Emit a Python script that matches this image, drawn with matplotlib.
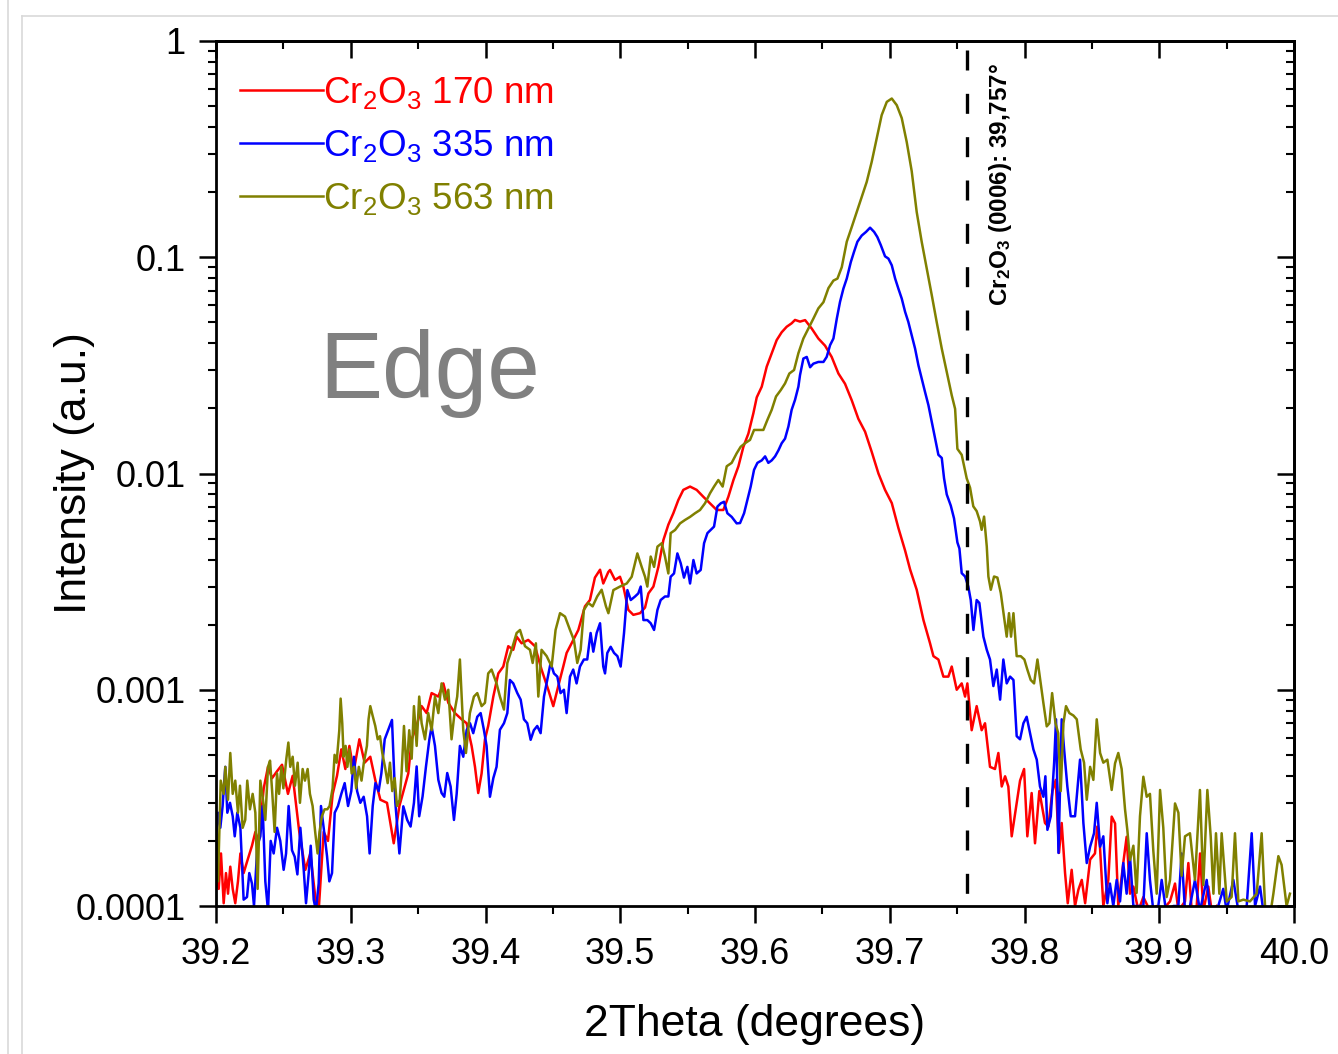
import matplotlib
matplotlib.use("Agg")
import matplotlib.pyplot as plt
from matplotlib.ticker import MultipleLocator, LogLocator, NullFormatter
from matplotlib.lines import Line2D

plt.rcParams['font.family'] = ['Liberation Sans', 'DejaVu Sans']
plt.rcParams['mathtext.default'] = 'regular'

# ---------------- data (2theta [deg], intensity [a.u.]) ----------------
red_170 = [
    (39.2000, 1.5e-4), (39.2020, 1.2e-4), (39.2037, 1.75e-4), (39.2057, 1.03e-4), (39.2074, 1.42e-4),
    (39.2089, 1.14e-4), (39.2106, 1.52e-4), (39.2124, 1.20e-4), (39.2143, 1.03e-4), (39.2163, 1.30e-4),
    (39.2181, 1.75e-4), (39.2205, 1.42e-4), (39.2230, 1.60e-4), (39.2267, 1.90e-4), (39.2292, 2.20e-4),
    (39.2317, 2.00e-4), (39.2354, 3.50e-4), (39.2386, 4.40e-4), (39.2416, 3.90e-4), (39.2453, 4.20e-4),
    (39.2490, 4.50e-4), (39.2534, 3.30e-4), (39.2569, 4.00e-4), (39.2618, 2.20e-4), (39.2663, 1.47e-4),
    (39.2700, 1.75e-4), (39.2742, 1.03e-4), (39.2762, 9.5e-5), (39.2799, 2.20e-4), (39.2831, 2.00e-4),
    (39.2866, 3.30e-4), (39.2898, 4.00e-4), (39.2930, 5.30e-4), (39.2960, 4.30e-4), (39.2990, 5.50e-4),
    (39.3022, 4.20e-4), (39.3064, 5.90e-4), (39.3103, 4.60e-4), (39.3145, 4.90e-4), (39.3183, 3.80e-4),
    (39.3220, 3.10e-4), (39.3269, 3.00e-4), (39.3319, 1.95e-4), (39.3361, 2.90e-4), (39.3402, 3.6e-4),
    (39.3427, 4.1e-4), (39.3452, 5.9e-4), (39.3489, 6.8e-4), (39.3526, 8.4e-4), (39.3563, 7.8e-4),
    (39.3600, 9.65e-4), (39.3650, 9.3e-4), (39.3687, 1.07e-3), (39.3724, 8.7e-4), (39.3773, 7.8e-4),
    (39.3823, 7.3e-4), (39.3860, 7.0e-4), (39.3897, 5.5e-4), (39.3922, 4.4e-4), (39.3946, 3.33e-4),
    (39.3971, 4.1e-4), (39.3996, 5.9e-4), (39.4020, 6.8e-4), (39.4058, 9.3e-4), (39.4095, 1.19e-3),
    (39.4132, 1.28e-3), (39.4169, 1.59e-3), (39.4206, 1.53e-3), (39.4231, 1.76e-3), (39.4268, 1.64e-3),
    (39.4317, 1.70e-3), (39.4367, 1.59e-3), (39.4416, 1.24e-3), (39.4466, 1.00e-3), (39.4503, 8.4e-4),
    (39.4540, 1.04e-3), (39.4577, 1.28e-3), (39.4602, 1.48e-3), (39.4639, 1.64e-3), (39.4689, 1.89e-3),
    (39.4738, 2.43e-3), (39.4775, 2.60e-3), (39.4812, 3.30e-3), (39.4850, 3.59e-3), (39.4874, 3.10e-3),
    (39.4911, 3.50e-3), (39.4924, 3.58e-3), (39.4961, 3.22e-3), (39.4998, 3.33e-3), (39.5023, 3.00e-3),
    (39.5060, 2.34e-3), (39.5097, 2.22e-3), (39.5147, 2.26e-3), (39.5184, 2.40e-3), (39.5209, 2.79e-3),
    (39.5246, 3.00e-3), (39.5283, 3.70e-3), (39.5320, 4.92e-3), (39.5357, 5.80e-3), (39.5394, 6.55e-3),
    (39.5431, 7.54e-3), (39.5468, 8.40e-3), (39.5518, 8.70e-3), (39.5567, 8.40e-3), (39.5617, 7.80e-3),
    (39.5666, 7.28e-3), (39.5716, 6.78e-3), (39.5765, 6.78e-3), (39.5802, 7.80e-3), (39.5840, 9.33e-3),
    (39.5877, 1.08e-2), (39.5914, 1.33e-2), (39.5951, 1.53e-2), (39.5988, 1.90e-2), (39.6013, 2.25e-2),
    (39.6050, 2.52e-2), (39.6087, 3.12e-2), (39.6124, 3.60e-2), (39.6161, 4.14e-2), (39.6198, 4.50e-2),
    (39.6235, 4.77e-2), (39.6272, 4.95e-2), (39.6297, 5.13e-2), (39.6334, 5.04e-2), (39.6372, 5.12e-2),
    (39.6421, 4.68e-2), (39.6470, 4.21e-2), (39.6520, 3.90e-2), (39.6569, 3.46e-2), (39.6619, 2.90e-2),
    (39.6668, 2.60e-2), (39.6718, 2.18e-2), (39.6767, 1.79e-2), (39.6817, 1.56e-2), (39.6866, 1.26e-2),
    (39.6916, 1.00e-2), (39.6965, 8.4e-3), (39.7015, 7.3e-3), (39.7064, 5.6e-3), (39.7114, 4.4e-3),
    (39.7151, 3.6e-3), (39.7200, 2.9e-3), (39.7250, 2.1e-3), (39.7299, 1.64e-3), (39.7324, 1.43e-3),
    (39.7361, 1.38e-3), (39.7398, 1.15e-3), (39.7435, 1.15e-3), (39.7460, 1.28e-3), (39.7497, 1.00e-3),
    (39.7534, 1.07e-3), (39.7559, 9.3e-4), (39.7576, 1.07e-3), (39.7608, 6.5e-4), (39.7645, 8.4e-4),
    (39.7682, 6.5e-4), (39.7707, 7.0e-4), (39.7744, 4.4e-4), (39.7781, 4.3e-4), (39.7806, 5.1e-4),
    (39.7831, 3.57e-4), (39.7856, 3.98e-4), (39.7880, 3.57e-4), (39.7905, 2.1e-4), (39.7942, 3.0e-4),
    (39.7967, 3.8e-4), (39.7997, 4.3e-4), (39.8021, 2.1e-4), (39.8053, 3.33e-4), (39.8078, 1.95e-4),
    (39.8110, 3.4e-4), (39.8152, 2.42e-4), (39.8177, 2.33e-4), (39.8207, 3.4e-4), (39.8232, 3.83e-4),
    (39.8256, 1.76e-4), (39.8276, 2.42e-4), (39.8301, 1.42e-4), (39.8321, 1.03e-4), (39.8350, 1.47e-4),
    (39.8375, 1.0e-4), (39.8400, 1.19e-4), (39.8425, 1.32e-4), (39.8450, 1.03e-4), (39.8487, 1.64e-4),
    (39.8523, 1.75e-4), (39.8540, 2.33e-4), (39.8560, 1.88e-4), (39.8585, 1.0e-4), (39.8622, 1.32e-4),
    (39.8647, 2.59e-4), (39.8672, 2.41e-4), (39.8696, 1.0e-4), (39.8733, 1.58e-4), (39.8758, 2.09e-4),
    (39.8783, 1.14e-4), (39.8808, 1.23e-4), (39.8845, 9.5e-5), (39.8882, 1.1e-4), (39.8931, 9.5e-5),
    (39.8980, 1.0e-4), (39.9018, 9.5e-5), (39.9080, 1.05e-4), (39.9117, 1.27e-4), (39.9142, 9.5e-5),
    (39.9191, 1.05e-4), (39.9216, 1.58e-4), (39.9241, 9.5e-5), (39.9278, 1.0e-4), (39.9303, 1.75e-4),
    (39.9327, 9.5e-5), (39.9364, 1.23e-4), (39.9389, 9.5e-5), (39.9426, 1.0e-4),
]

blue_335 = [
    (39.2000, 2.0e-4), (39.2015, 2.7e-4), (39.2032, 2.3e-4), (39.2049, 2.9e-4), (39.2069, 4.4e-4),
    (39.2084, 2.7e-4), (39.2104, 3.0e-4), (39.2124, 2.6e-4), (39.2139, 2.1e-4), (39.2158, 2.7e-4),
    (39.2181, 2.3e-4), (39.2205, 1.07e-4), (39.2230, 1.1e-4), (39.2247, 1.42e-4), (39.2267, 1.27e-4),
    (39.2282, 1.0e-4), (39.2307, 1.9e-4), (39.2329, 2.1e-4), (39.2346, 2.9e-4), (39.2366, 1.3e-4),
    (39.2386, 9.5e-5), (39.2406, 2.0e-4), (39.2428, 1.75e-4), (39.2453, 2.3e-4), (39.2477, 2.0e-4),
    (39.2502, 1.47e-4), (39.2520, 1.75e-4), (39.2539, 2.9e-4), (39.2564, 1.81e-4), (39.2584, 1.69e-4),
    (39.2604, 1.4e-4), (39.2626, 2.3e-4), (39.2651, 1.47e-4), (39.2668, 1.03e-4), (39.2688, 1.42e-4),
    (39.2703, 1.9e-4), (39.2725, 1.07e-4), (39.2742, 9.5e-5), (39.2762, 1.27e-4), (39.2779, 2.9e-4),
    (39.2799, 2.3e-4), (39.2824, 1.7e-4), (39.2841, 1.3e-4), (39.2861, 1.42e-4), (39.2881, 2.7e-4),
    (39.2905, 2.9e-4), (39.2930, 3.3e-4), (39.2955, 3.7e-4), (39.2980, 2.9e-4), (39.3004, 3.4e-4),
    (39.3024, 4.9e-4), (39.3047, 3.4e-4), (39.3071, 3.0e-4), (39.3096, 3.2e-4), (39.3121, 2.6e-4),
    (39.3140, 1.75e-4), (39.3163, 2.9e-4), (39.3183, 3.7e-4), (39.3207, 3.4e-4), (39.3227, 4.1e-4),
    (39.3252, 5.9e-4), (39.3277, 6.5e-4), (39.3306, 7.25e-4), (39.3331, 3.0e-4), (39.3361, 1.75e-4),
    (39.3390, 2.89e-4), (39.3419, 2.5e-4), (39.3444, 2.33e-4), (39.3469, 3.0e-4), (39.3489, 4.42e-4),
    (39.3508, 2.6e-4), (39.3533, 3.21e-4), (39.3558, 4.4e-4), (39.3583, 5.87e-4), (39.3600, 6.77e-4),
    (39.3625, 5.5e-4), (39.3650, 3.83e-4), (39.3674, 3.33e-4), (39.3694, 3.2e-4), (39.3716, 4.12e-4),
    (39.3741, 3.57e-4), (39.3766, 2.5e-4), (39.3786, 3.3e-4), (39.3810, 5.5e-4), (39.3835, 4.9e-4),
    (39.3860, 6.5e-4), (39.3885, 7.0e-4), (39.3909, 6.3e-4), (39.3939, 7.5e-4), (39.3964, 7.8e-4),
    (39.3988, 6.53e-4), (39.4008, 5.5e-4), (39.4033, 3.2e-4), (39.4058, 3.9e-4), (39.4082, 4.4e-4),
    (39.4107, 6.53e-4), (39.4137, 7.0e-4), (39.4162, 7.8e-4), (39.4181, 1.11e-3), (39.4206, 1.07e-3),
    (39.4236, 9.65e-4), (39.4261, 9.0e-4), (39.4285, 7.3e-4), (39.4310, 7.0e-4), (39.4335, 5.87e-4),
    (39.4359, 6.5e-4), (39.4384, 6.8e-4), (39.4409, 6.3e-4), (39.4434, 9.3e-4), (39.4458, 1.11e-3),
    (39.4483, 1.33e-3), (39.4508, 1.19e-3), (39.4533, 1.15e-3), (39.4557, 9.65e-4), (39.4582, 1.0e-3),
    (39.4602, 7.8e-4), (39.4627, 1.15e-3), (39.4651, 1.24e-3), (39.4676, 1.07e-3), (39.4701, 1.28e-3),
    (39.4730, 1.38e-3), (39.4755, 1.38e-3), (39.4780, 1.83e-3), (39.4800, 1.5e-3), (39.4825, 1.83e-3),
    (39.4850, 2.03e-3), (39.4874, 1.28e-3), (39.4887, 1.19e-3), (39.4904, 1.48e-3), (39.4929, 1.58e-3),
    (39.4954, 1.48e-3), (39.4979, 1.43e-3), (39.5003, 1.28e-3), (39.5028, 1.83e-3), (39.5053, 2.89e-3),
    (39.5078, 2.6e-3), (39.5110, 2.7e-3), (39.5134, 2.79e-3), (39.5152, 3.0e-3), (39.5172, 2.1e-3),
    (39.5201, 2.1e-3), (39.5226, 2.03e-3), (39.5251, 1.89e-3), (39.5276, 2.34e-3), (39.5300, 2.6e-3),
    (39.5332, 2.7e-3), (39.5357, 2.7e-3), (39.5374, 3.33e-3), (39.5399, 3.45e-3), (39.5424, 4.27e-3),
    (39.5449, 3.84e-3), (39.5473, 3.3e-3), (39.5498, 3.7e-3), (39.5518, 3.1e-3), (39.5543, 3.98e-3),
    (39.5567, 3.45e-3), (39.5597, 3.58e-3), (39.5622, 4.76e-3), (39.5647, 5.3e-3), (39.5671, 5.48e-3),
    (39.5696, 5.68e-3), (39.5721, 7.03e-3), (39.5746, 7.28e-3), (39.5770, 7.4e-3), (39.5795, 6.55e-3),
    (39.5827, 6.3e-3), (39.5864, 5.88e-3), (39.5889, 5.9e-3), (39.5919, 6.55e-3), (39.5943, 7.54e-3),
    (39.5968, 8.7e-3), (39.5993, 1.04e-2), (39.6018, 1.12e-2), (39.6050, 1.15e-2), (39.6075, 1.2e-2),
    (39.6099, 1.12e-2), (39.6124, 1.15e-2), (39.6149, 1.2e-2), (39.6174, 1.28e-2), (39.6198, 1.38e-2),
    (39.6223, 1.45e-2), (39.6248, 1.65e-2), (39.6272, 1.97e-2), (39.6297, 2.19e-2), (39.6322, 2.52e-2),
    (39.6334, 2.85e-2), (39.6359, 3.4e-2), (39.6384, 3.46e-2), (39.6409, 3.1e-2), (39.6433, 3.22e-2),
    (39.6470, 3.28e-2), (39.6508, 3.28e-2), (39.6532, 3.46e-2), (39.6557, 3.92e-2), (39.6582, 4.21e-2),
    (39.6607, 5.2e-2), (39.6631, 6.22e-2), (39.6656, 7.16e-2), (39.6681, 7.97e-2), (39.6711, 9.5e-2),
    (39.6735, 0.106), (39.6760, 0.118), (39.6792, 0.126), (39.6824, 0.131), (39.6854, 0.137),
    (39.6884, 0.131), (39.6908, 0.124), (39.6933, 0.114), (39.6965, 0.101), (39.6990, 0.0986),
    (39.7015, 0.0918), (39.7040, 0.0797), (39.7064, 0.0716), (39.7089, 0.0644), (39.7114, 0.0559),
    (39.7138, 0.0502), (39.7163, 0.0436), (39.7188, 0.0378), (39.7213, 0.0316), (39.7237, 0.0275),
    (39.7262, 0.0238), (39.7287, 0.0207), (39.7312, 0.0173), (39.7336, 0.0145), (39.7361, 0.0122),
    (39.7386, 0.0118), (39.7403, 0.0095), (39.7423, 0.0080), (39.7453, 0.0071), (39.7477, 0.0062),
    (39.7502, 0.0048), (39.7517, 0.0045), (39.7534, 3.46e-3), (39.7559, 3.34e-3), (39.7583, 3.0e-3),
    (39.7601, 2.6e-3), (39.7621, 1.89e-3), (39.7645, 2.6e-3), (39.7665, 2.52e-3), (39.7695, 1.76e-3),
    (39.7720, 1.53e-3), (39.7744, 1.38e-3), (39.7769, 1.04e-3), (39.7794, 1.24e-3), (39.7819, 9.0e-4),
    (39.7843, 1.38e-3), (39.7868, 1.07e-3), (39.7893, 1.15e-3), (39.7918, 1.11e-3), (39.7942, 6.1e-4),
    (39.7967, 5.9e-4), (39.7992, 7.0e-4), (39.8016, 7.5e-4), (39.8041, 6.3e-4), (39.8066, 5.3e-4),
    (39.8091, 4.75e-4), (39.8115, 3.57e-4), (39.8140, 3.2e-4), (39.8155, 3.98e-4), (39.8170, 2.25e-4),
    (39.8195, 2.6e-4), (39.8220, 4.6e-4), (39.8234, 7.3e-4), (39.8252, 1.76e-4), (39.8276, 7.3e-4),
    (39.8294, 5.3e-4), (39.8318, 3.57e-4), (39.8343, 2.6e-4), (39.8375, 2.6e-4), (39.8412, 4.75e-4),
    (39.8437, 2.42e-4), (39.8462, 1.58e-4), (39.8487, 1.88e-4), (39.8516, 2.17e-4), (39.8536, 3.0e-4),
    (39.8561, 1.88e-4), (39.8585, 2.1e-4), (39.8615, 1.03e-4), (39.8634, 1.27e-4), (39.8659, 1.0e-4),
    (39.8684, 1.32e-4), (39.8709, 1.05e-4), (39.8733, 1.58e-4), (39.8758, 1.14e-4), (39.8783, 1.69e-4),
    (39.8808, 1.0e-4), (39.8845, 1.0e-4), (39.8882, 1.0e-4), (39.8907, 2.17e-4), (39.8931, 1.32e-4),
    (39.8956, 9.5e-5), (39.8993, 1.0e-4), (39.9018, 1.32e-4), (39.9050, 9.5e-5), (39.9105, 1.0e-4),
    (39.9142, 1.0e-4), (39.9166, 1.75e-4), (39.9191, 9.5e-5), (39.9228, 1.0e-4), (39.9265, 1.32e-4),
    (39.9302, 9.5e-5), (39.9352, 1.32e-4), (39.9377, 9.5e-5), (39.9438, 1.0e-4), (39.9475, 1.2e-4),
    (39.9500, 9.5e-5), (39.9550, 1.32e-4), (39.9587, 9.5e-5), (39.9649, 1.0e-4), (39.9686, 2.17e-4),
    (39.9711, 1.0e-4), (39.9748, 1.23e-4), (39.9772, 9.5e-5),
]

olive_563 = [
    (39.2000, 2.3e-4), (39.2015, 1.3e-4), (39.2035, 3.8e-4), (39.2057, 3.3e-4), (39.2069, 4.4e-4),
    (39.2089, 3.1e-4), (39.2106, 5.1e-4), (39.2124, 3.3e-4), (39.2143, 3.8e-4), (39.2163, 2.7e-4),
    (39.2178, 3.6e-4), (39.2198, 2.3e-4), (39.2217, 2.5e-4), (39.2232, 3.8e-4), (39.2252, 2.8e-4),
    (39.2272, 3.3e-4), (39.2292, 2.7e-4), (39.2309, 1.2e-4), (39.2329, 3.8e-4), (39.2346, 3.2e-4),
    (39.2366, 2.5e-4), (39.2386, 4.4e-4), (39.2401, 4.7e-4), (39.2418, 3.3e-4), (39.2435, 2.2e-4),
    (39.2453, 4.1e-4), (39.2468, 3.3e-4), (39.2485, 4.4e-4), (39.2500, 3.5e-4), (39.2522, 4.8e-4),
    (39.2537, 5.7e-4), (39.2551, 4.4e-4), (39.2569, 4.9e-4), (39.2586, 3.6e-4), (39.2606, 4.6e-4),
    (39.2623, 3.0e-4), (39.2643, 4.3e-4), (39.2660, 3.8e-4), (39.2680, 4.3e-4), (39.2697, 3.3e-4),
    (39.2717, 2.9e-4), (39.2736, 2.2e-4), (39.2754, 1.75e-4), (39.2768, 2.2e-4), (39.2786, 2.6e-4),
    (39.2806, 2.8e-4), (39.2826, 2.8e-4), (39.2843, 2.9e-4), (39.2865, 3.5e-4), (39.2880, 5.0e-4),
    (39.2895, 4.6e-4), (39.2915, 6.5e-4), (39.2925, 9.1e-4), (39.2937, 7.0e-4), (39.2947, 4.9e-4),
    (39.2962, 5.5e-4), (39.2975, 4.4e-4), (39.2990, 5.3e-4), (39.3007, 4.1e-4), (39.3025, 4.4e-4),
    (39.3040, 3.5e-4), (39.3060, 4.4e-4), (39.3080, 3.8e-4), (39.3097, 4.6e-4), (39.3120, 5.5e-4),
    (39.3132, 7.3e-4), (39.3145, 8.4e-4), (39.3162, 7.6e-4), (39.3182, 6.8e-4), (39.3200, 5.9e-4),
    (39.3217, 6.1e-4), (39.3234, 5.1e-4), (39.3254, 4.4e-4), (39.3274, 3.7e-4), (39.3291, 4.6e-4),
    (39.3308, 3.4e-4), (39.3326, 3.9e-4), (39.3343, 2.9e-4), (39.3363, 3.1e-4), (39.3377, 4.1e-4),
    (39.3395, 6.8e-4), (39.3414, 4.2e-4), (39.3434, 6.5e-4), (39.3452, 4.8e-4), (39.3469, 8.4e-4),
    (39.3489, 5.5e-4), (39.3508, 9.3e-4), (39.3526, 7.0e-4), (39.3551, 5.9e-4), (39.3575, 7.8e-4),
    (39.3600, 6.5e-4), (39.3625, 9.3e-4), (39.3650, 7.8e-4), (39.3674, 1.07e-3), (39.3699, 9.0e-4),
    (39.3724, 1.0e-3), (39.3748, 5.9e-4), (39.3773, 8.1e-4), (39.3790, 9.3e-4), (39.3810, 1.38e-3),
    (39.3835, 6.5e-4), (39.3855, 5.1e-4), (39.3884, 7.8e-4), (39.3914, 9.3e-4), (39.3939, 9.65e-4),
    (39.3971, 8.4e-4), (39.3996, 8.7e-4), (39.4020, 1.19e-3), (39.4045, 1.24e-3), (39.4082, 1.07e-3),
    (39.4107, 9.3e-4), (39.4137, 8.1e-4), (39.4162, 1.33e-3), (39.4194, 1.53e-3), (39.4231, 1.83e-3),
    (39.4256, 1.89e-3), (39.4293, 1.59e-3), (39.4330, 1.53e-3), (39.4350, 1.33e-3), (39.4374, 1.64e-3),
    (39.4392, 9.3e-4), (39.4416, 1.53e-3), (39.4454, 1.43e-3), (39.4491, 1.28e-3), (39.4520, 1.89e-3),
    (39.4553, 2.26e-3), (39.4590, 2.18e-3), (39.4627, 1.89e-3), (39.4656, 1.70e-3), (39.4681, 1.33e-3),
    (39.4706, 1.53e-3), (39.4730, 2.34e-3), (39.4763, 2.52e-3), (39.4795, 2.43e-3), (39.4829, 2.70e-3),
    (39.4862, 2.90e-3), (39.4894, 2.43e-3), (39.4912, 2.26e-3), (39.4949, 2.89e-3), (39.4998, 3.00e-3),
    (39.5048, 3.10e-3), (39.5085, 3.33e-3), (39.5127, 4.27e-3), (39.5159, 3.70e-3), (39.5184, 3.33e-3),
    (39.5201, 3.00e-3), (39.5226, 4.13e-3), (39.5251, 3.70e-3), (39.5276, 4.59e-3), (39.5308, 4.76e-3),
    (39.5332, 4.13e-3), (39.5357, 3.45e-3), (39.5374, 5.30e-3), (39.5407, 5.48e-3), (39.5444, 5.88e-3),
    (39.5481, 6.10e-3), (39.5518, 6.30e-3), (39.5555, 6.55e-3), (39.5592, 6.78e-3), (39.5629, 7.28e-3),
    (39.5666, 8.10e-3), (39.5696, 8.70e-3), (39.5728, 9.33e-3), (39.5760, 8.70e-3), (39.5790, 1.08e-2),
    (39.5827, 1.12e-2), (39.5864, 1.24e-2), (39.5894, 1.33e-2), (39.5926, 1.38e-2), (39.5963, 1.43e-2),
    (39.5993, 1.59e-2), (39.6025, 1.59e-2), (39.6062, 1.59e-2), (39.6092, 1.77e-2), (39.6124, 1.97e-2),
    (39.6156, 2.27e-2), (39.6191, 2.43e-2), (39.6223, 2.61e-2), (39.6255, 2.90e-2), (39.6290, 3.01e-2),
    (39.6322, 3.60e-2), (39.6359, 4.21e-2), (39.6396, 4.68e-2), (39.6433, 5.20e-2), (39.6470, 5.80e-2),
    (39.6508, 6.20e-2), (39.6545, 7.20e-2), (39.6582, 7.80e-2), (39.6612, 7.97e-2), (39.6644, 9.00e-2),
    (39.6681, 0.118), (39.6718, 0.138), (39.6755, 0.162), (39.6792, 0.190), (39.6829, 0.223),
    (39.6866, 0.276), (39.6903, 0.354), (39.6940, 0.454), (39.6978, 0.523), (39.7015, 0.542),
    (39.7052, 0.505), (39.7089, 0.440), (39.7126, 0.341), (39.7163, 0.250), (39.7200, 0.162),
    (39.7237, 0.118), (39.7275, 0.0886), (39.7312, 0.0667), (39.7349, 0.0499), (39.7386, 0.0378),
    (39.7423, 0.0295), (39.7460, 0.0230), (39.7485, 0.0199), (39.7502, 0.0130), (39.7534, 0.0122),
    (39.7571, 0.0095), (39.7596, 0.0086), (39.7620, 7.05e-3), (39.7645, 6.7e-3), (39.7670, 6.0e-3),
    (39.7682, 5.49e-3), (39.7700, 6.32e-3), (39.7720, 4.6e-3), (39.7732, 3.34e-3), (39.7750, 2.9e-3),
    (39.7774, 3.34e-3), (39.7799, 3.3e-3), (39.7824, 2.8e-3), (39.7848, 2.18e-3), (39.7868, 1.76e-3),
    (39.7885, 2.26e-3), (39.7900, 1.76e-3), (39.7918, 2.26e-3), (39.7942, 1.43e-3), (39.7972, 1.43e-3),
    (39.7999, 1.38e-3), (39.8021, 1.24e-3), (39.8046, 1.11e-3), (39.8071, 1.07e-3), (39.8096, 1.38e-3),
    (39.8120, 1.07e-3), (39.8140, 8.7e-4), (39.8165, 6.77e-4), (39.8185, 7.0e-4), (39.8205, 9.65e-4),
    (39.8230, 7.0e-4), (39.8250, 6.3e-4), (39.8269, 3.4e-4), (39.8289, 7.0e-4), (39.8308, 8.4e-4),
    (39.8333, 7.8e-4), (39.8363, 7.6e-4), (39.8388, 7.3e-4), (39.8417, 5.3e-4), (39.8442, 4.6e-4),
    (39.8462, 3.1e-4), (39.8487, 4.4e-4), (39.8511, 3.83e-4), (39.8536, 7.3e-4), (39.8561, 5.1e-4),
    (39.8585, 4.6e-4), (39.8615, 4.75e-4), (39.8647, 3.44e-4), (39.8672, 4.57e-4), (39.8696, 5.1e-4),
    (39.8721, 4.3e-4), (39.8746, 2.8e-4), (39.8763, 2.25e-4), (39.8783, 1.63e-4), (39.8808, 1.9e-4),
    (39.8832, 1.15e-4), (39.8857, 2.6e-4), (39.8882, 3.96e-4), (39.8907, 3.2e-4), (39.8931, 3.3e-4),
    (39.8956, 1.8e-4), (39.8981, 1.14e-4), (39.9006, 3.44e-4), (39.9030, 2.3e-4), (39.9055, 1.1e-4),
    (39.9080, 1.32e-4), (39.9117, 2.98e-4), (39.9142, 2.7e-4), (39.9166, 1.38e-4), (39.9191, 2.1e-4),
    (39.9228, 2.17e-4), (39.9265, 1.32e-4), (39.9302, 3.44e-4), (39.9327, 1.25e-4), (39.9357, 3.44e-4),
    (39.9382, 2.09e-4), (39.9402, 1.14e-4), (39.9421, 2.17e-4), (39.9446, 1.14e-4), (39.9463, 2.17e-4),
    (39.9501, 1.05e-4), (39.9537, 1.1e-4), (39.9562, 2.17e-4), (39.9587, 1.05e-4), (39.9624, 1.07e-4),
    (39.9673, 1.05e-4), (39.9723, 1.14e-4), (39.9760, 2.17e-4), (39.9785, 1.0e-4), (39.9822, 9.0e-5),
    (39.9847, 1.14e-4), (39.9884, 1.7e-4), (39.9908, 1.55e-4), (39.9945, 1.0e-4), (39.9970, 1.14e-4),
]

series_labels = [r'Cr$_2$O$_3$ 170 nm', r'Cr$_2$O$_3$ 335 nm', r'Cr$_2$O$_3$ 563 nm']
series_colors = ['#ff0000', '#0000ff', '#808000']

peak_position = 39.757          # Cr2O3 (0006) reference position
peak_label = r'Cr$_2$O$_3$ (0006): 39,757°'
panel_text = 'Edge'

x_ticks = [39.2, 39.3, 39.4, 39.5, 39.6, 39.7, 39.8, 39.9, 40.0]
x_tick_labels = ['39.2', '39.3', '39.4', '39.5', '39.6', '39.7', '39.8', '39.9', '40.0']
y_ticks = [1e-4, 1e-3, 1e-2, 1e-1, 1]
y_tick_labels = ['0.0001', '0.001', '0.01', '0.1', '1']

# ---------------- figure ----------------
W, H = 1338, 1054
fig = plt.figure(figsize=(W / 100, H / 100), dpi=100)
fig.patch.set_facecolor('white')

# light grey page/panel frame lines
for xs, ys in [([8 / W, 8 / W], [0, 1]),
               ([22 / W, 22 / W], [0, 1 - 16 / H]),
               ([22 / W, 1], [1 - 16 / H, 1 - 16 / H])]:
    fig.add_artist(Line2D(xs, ys, transform=fig.transFigure, color='#d9d9d9', lw=1.2))

ax = fig.add_axes([216 / W, 1 - 906 / H, 1078 / W, 865 / H])

for data, lab, col in zip([red_170, blue_335, olive_563], series_labels, series_colors):
    xs = [p[0] for p in data]
    ys = [p[1] for p in data]
    ax.plot(xs, ys, color=col, lw=1.8, label=lab, solid_joinstyle='round')

ax.set_yscale('log')
ax.set_xlim(39.2, 40.0)
ax.set_ylim(1e-4, 1)

# reference line
ax.plot([peak_position, peak_position], [0.91, 1e-4], color='black', lw=2.4,
        dashes=(6.0, 7.0), dash_capstyle='butt')
ax.text(0.7273, 0.975, peak_label, transform=ax.transAxes, rotation=90,
        ha='center', va='top', fontsize=17.5, fontweight='bold', color='black')

ax.text(0.0955, 0.587, panel_text, transform=ax.transAxes, fontsize=68,
        color='#808080', ha='left', va='baseline')

# ticks
ax.set_xticks(x_ticks)
ax.set_xticklabels(x_tick_labels)
ax.xaxis.set_minor_locator(MultipleLocator(0.05))
ax.set_yticks(y_ticks)
ax.set_yticklabels(y_tick_labels)
ax.yaxis.set_minor_locator(LogLocator(base=10, subs=[2, 3, 4, 5, 6, 7, 8, 9], numticks=20))
ax.yaxis.set_minor_formatter(NullFormatter())
ax.tick_params(which='major', direction='out', length=12, width=1.8, labelsize=26)
ax.tick_params(which='minor', direction='out', length=6, width=1.5)
ax.tick_params(axis='x', which='major', pad=10)
ax.tick_params(axis='y', which='major', pad=10)
for s in ax.spines.values():
    s.set_linewidth(2.0)

secx = ax.secondary_xaxis('top')
secx.set_xticks(x_ticks)
secx.xaxis.set_minor_locator(MultipleLocator(0.05))
secx.tick_params(which='major', direction='in', length=12, width=1.8, labeltop=False)
secx.tick_params(which='minor', direction='in', length=6, width=1.5)
secx.spines['top'].set_linewidth(2.0)

secy = ax.secondary_yaxis('right')
secy.set_yticks(y_ticks)
secy.yaxis.set_minor_locator(LogLocator(base=10, subs=[2, 3, 4, 5, 6, 7, 8, 9], numticks=20))
secy.yaxis.set_minor_formatter(NullFormatter())
secy.tick_params(which='major', direction='in', length=12, width=1.8, labelright=False)
secy.tick_params(which='minor', direction='in', length=6, width=1.5)
secy.spines['right'].set_linewidth(2.0)

ax.set_xlabel('2Theta (degrees)', fontsize=32)
ax.set_ylabel('Intensity (a.u.)', fontsize=32)
ax.xaxis.set_label_coords(0.5, -0.1137)
ax.yaxis.set_label_coords(-0.112, 0.5)

leg = ax.legend(loc='upper left', bbox_to_anchor=(0.0223, 0.961), frameon=False,
                fontsize=26.5, handlelength=2.25, handletextpad=0.0, labelspacing=0.46,
                borderpad=0, borderaxespad=0, labelcolor='linecolor')

fig.savefig('out.png', dpi=100, facecolor='white')
